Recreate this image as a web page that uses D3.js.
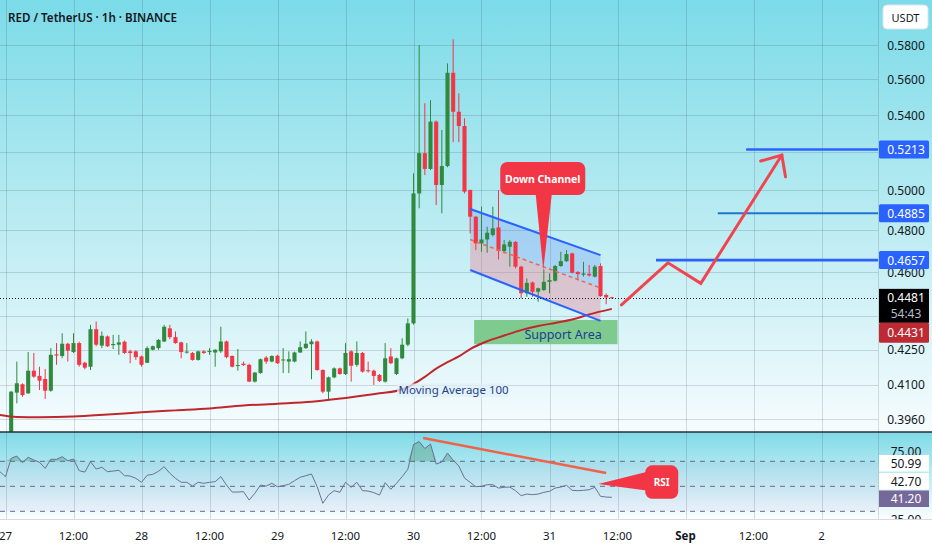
<!DOCTYPE html>
<html lang="en">
<head>
<meta charset="UTF-8" />
<title>RED / TetherUS 1h</title>
<script src="https://d3js.org/d3.v7.min.js"></script>
<style>
  body { margin: 0; background: #fff; }
  svg { display: block; font-family: "Noto Sans", "DejaVu Sans", sans-serif; }
</style>
</head>
<body>
<svg id="chart" width="932" height="550"></svg>
<script>
// hourly candles, index 0 = 27 Aug 00:00
const opens = [0.3880,0.3880,0.4068,0.4103,0.4065,0.4160,0.4138,0.4125,0.4076,0.4230,
  0.4223,0.4276,0.4240,0.4279,0.4194,0.4177,0.4340,0.4268,0.4308,0.4270,
  0.4272,0.4285,0.4243,0.4243,0.4221,0.4194,0.4250,0.4257,0.4286,0.4344,
  0.4305,0.4282,0.4238,0.4236,0.4206,0.4243,0.4240,0.4238,0.4243,0.4286,
  0.4223,0.4180,0.4190,0.4185,0.4114,0.4150,0.4216,0.4199,0.4224,0.4204,
  0.4199,0.4199,0.4238,0.4257,0.4274,0.4286,0.4163,0.4072,0.4132,0.4170,
  0.4146,0.4243,0.4185,0.4236,0.4162,0.4160,0.4142,0.4114,0.4221,0.4146,
  0.4213,0.4272,0.4366,0.4985,0.5194,0.5111,0.5364,0.5028,0.5126,0.5638,
  0.5418,0.5340,0.5002,0.4868,0.4737,0.4756,0.4778,0.4815,0.4700,0.4721,
  0.4744,0.4626,0.4502,0.4552,0.4509,0.4517,0.4555,0.4560,0.4629,0.4652,
  0.4689,0.4601,0.4588,0.4592,0.4579,0.4629,0.4494,0.4484];
const highs = [0.3900,0.4075,0.4199,0.4107,0.4240,0.4236,0.4177,0.4167,0.4257,0.4279,
  0.4322,0.4280,0.4322,0.4285,0.4198,0.4359,0.4374,0.4330,0.4312,0.4315,
  0.4315,0.4290,0.4250,0.4248,0.4225,0.4265,0.4268,0.4296,0.4359,0.4359,
  0.4330,0.4285,0.4279,0.4240,0.4246,0.4248,0.4257,0.4252,0.4351,0.4290,
  0.4225,0.4253,0.4199,0.4190,0.4155,0.4212,0.4223,0.4226,0.4228,0.4257,
  0.4243,0.4242,0.4286,0.4330,0.4296,0.4290,0.4166,0.4135,0.4174,0.4173,
  0.4279,0.4248,0.4286,0.4240,0.4199,0.4165,0.4146,0.4279,0.4257,0.4216,
  0.4300,0.4388,0.5088,0.5800,0.5465,0.5483,0.5370,0.5318,0.5692,0.5834,
  0.5521,0.5382,0.5005,0.4870,0.4918,0.4818,0.4918,0.5002,0.4753,0.4753,
  0.4748,0.4630,0.4571,0.4556,0.4528,0.4613,0.4594,0.4634,0.4697,0.4705,
  0.4692,0.4605,0.4649,0.4634,0.4634,0.4641,0.4502,0.4486];
const lows = [0.3870,0.3860,0.4024,0.4051,0.4063,0.4130,0.4079,0.4042,0.4072,0.4185,
  0.4213,0.4199,0.4236,0.4177,0.4166,0.4163,0.4265,0.4257,0.4262,0.4253,
  0.4228,0.4232,0.4192,0.4206,0.4177,0.4192,0.4247,0.4250,0.4283,0.4296,
  0.4276,0.4213,0.4233,0.4203,0.4203,0.4232,0.4228,0.4177,0.4236,0.4213,
  0.4174,0.4160,0.4181,0.4112,0.4110,0.4147,0.4189,0.4196,0.4189,0.4150,
  0.4150,0.4196,0.4236,0.4254,0.4124,0.4160,0.4065,0.4041,0.4128,0.4143,
  0.4142,0.4114,0.4177,0.4152,0.4152,0.4100,0.4113,0.4110,0.4188,0.4142,
  0.4209,0.4265,0.4360,0.4910,0.5079,0.5105,0.4926,0.4885,0.5120,0.5253,
  0.5253,0.4985,0.4786,0.4705,0.4697,0.4692,0.4770,0.4660,0.4689,0.4626,
  0.4618,0.4479,0.4486,0.4486,0.4463,0.4512,0.4502,0.4556,0.4625,0.4648,
  0.4594,0.4563,0.4579,0.4579,0.4575,0.4486,0.4452,0.4478];
const closes = [0.3895,0.4072,0.4107,0.4058,0.4160,0.4135,0.4118,0.4076,0.4228,0.4225,
  0.4276,0.4246,0.4279,0.4185,0.4173,0.4340,0.4272,0.4311,0.4265,0.4275,
  0.4282,0.4236,0.4236,0.4218,0.4185,0.4257,0.4265,0.4293,0.4351,0.4305,
  0.4279,0.4240,0.4242,0.4206,0.4243,0.4236,0.4245,0.4250,0.4286,0.4218,
  0.4177,0.4184,0.4184,0.4114,0.4152,0.4209,0.4199,0.4223,0.4192,0.4208,
  0.4209,0.4238,0.4261,0.4276,0.4286,0.4163,0.4072,0.4132,0.4170,0.4146,
  0.4236,0.4181,0.4236,0.4156,0.4158,0.4138,0.4117,0.4213,0.4192,0.4213,
  0.4272,0.4366,0.4985,0.5194,0.5111,0.5364,0.5028,0.5126,0.5638,0.5418,
  0.5340,0.4994,0.4868,0.4737,0.4756,0.4789,0.4810,0.4701,0.4732,0.4745,
  0.4626,0.4502,0.4550,0.4509,0.4525,0.4555,0.4563,0.4629,0.4652,0.4686,
  0.4597,0.4591,0.4594,0.4585,0.4626,0.4489,0.4483,0.4481];

// RSI(14), first value belongs to hour -1
const rsiStartHour = -1;
const rsiValues = [61.7,57.7,72.4,74.2,68.9,73.2,71.0,69.2,64.4,71.6,
  71.6,73.7,70.5,71.8,62.5,61.4,69.7,63.8,65.2,61.7,
  62.2,62.8,58.5,58.2,56.4,53.2,58.8,59.6,62.0,65.7,
  60.4,56.4,53.2,53.2,50.2,53.2,52.4,53.2,53.7,57.7,
  51.0,45.4,45.4,45.7,39.0,44.4,51.0,50.2,52.4,49.7,
  50.5,51.6,54.5,57.2,58.5,59.8,49.7,36.4,43.0,46.5,
  45.2,53.2,49.2,53.2,46.5,46.2,44.9,43.0,52.9,47.6,
  52.4,57.7,63.6,83.4,85.8,80.2,83.8,67.8,69.4,76.6,
  70.9,66.2,56.6,53.2,49.7,50.0,51.3,51.3,48.6,49.2,
  49.4,46.5,42.5,43.8,43.3,43.8,45.2,46.0,48.6,49.4,
  50.8,46.8,46.5,46.8,47.3,49.2,42.0,41.4,41.2];

// moving average 100, read at these hours
const maHours  = [-1, 2, 6, 12, 18, 24, 30, 36, 42, 48, 54, 60, 66, 70, 72, 74, 76, 78, 80, 82, 85, 88, 91, 94, 97, 100, 103, 107];
const maValues = [0.3976,0.3968,0.3967,0.3970,0.3978,0.3987,0.3995,0.4003,0.4015,0.4022,0.4030,0.4046,0.4065,0.4081,
  0.4104,0.4134,0.4169,0.4197,0.4221,0.4253,0.4287,0.4312,0.4336,0.4354,0.4368,0.4383,0.4406,0.4431];

const priceTicks = [0.58, 0.56, 0.54, 0.52, 0.50, 0.48, 0.46, 0.44, 0.425, 0.41, 0.396];
const timeTickHours = [0, 12, 24, 36, 48, 60, 72, 84, 96, 108, 120, 132, 144];
const timeTickLabels = ["27", "12:00", "28", "12:00", "29", "12:00", "30", "12:00", "31", "12:00", "Sep", "12:00", "2"];
const rsiLevels = [70, 50, 30];

// drawings
const targetPrices = [0.5213, 0.4885, 0.4657];
const targetStartHours = [130.7, 125.7, 114.8];
const channelHours = [82, 105];
const channelUpper = [0.4906, 0.4681];
const channelLower = [0.4610, 0.4377];
const supportHours = [82.7, 108];
const supportPrices = [0.4381, 0.4274];
const pathHours = [108.7, 116.9, 122.7, 137.0];
const pathPrices = [0.4449, 0.4644, 0.4548, 0.5184];
const rsiTrendHours = [73.7, 106];
const rsiTrendValues = [88.6, 60.6];
const lastPrice = 0.4481, maLast = 0.4431;
const rsiLabels = ["50.99", "42.70", "41.20"];

const W = 932, H = 550, plotRight = 878, mainBottom = 432, rsiBottom = 519;
const up = "#2f8a3d", down = "#f23645";

const t0 = Date.UTC(2025, 7, 27, 0, 0);
const at = (h) => new Date(t0 + h * 3600e3);

const x = d3.scaleUtc().domain([at(0), at(120)]).range([5.5, 685.5]);
const y = d3.scaleLog().domain([0.58, 0.396]).range([45, 419]);
const yR = d3.scaleLinear().domain([30, 70]).range([511.3, 461.3]);

const svg = d3.select("#chart");
const defs = svg.append("defs");

function vGrad(id, y1, y2, stops) {
    const g = defs.append("linearGradient").attr("id", id)
        .attr("gradientUnits", "userSpaceOnUse")
        .attr("x1", 0).attr("x2", 0).attr("y1", y1).attr("y2", y2);
    stops.forEach(([o, c]) => g.append("stop").attr("offset", o).attr("stop-color", c));
}
vGrad("bgMain", 0, mainBottom, [[0, "#7bdbe8"], [0.5, "#b9ebf2"], [1, "#f6fcfe"]]);
vGrad("bgRsi", mainBottom, rsiBottom, [[0, "#7fdae7"], [1, "#fbfdff"]]);

defs.append("clipPath").attr("id", "clipMain").append("rect")
    .attr("width", plotRight).attr("height", mainBottom);
defs.append("clipPath").attr("id", "clipRsi").append("rect")
    .attr("y", mainBottom).attr("width", plotRight).attr("height", rsiBottom - mainBottom);
defs.append("clipPath").attr("id", "clipRsiAxis").append("rect")
    .attr("x", plotRight).attr("y", mainBottom).attr("width", W - plotRight).attr("height", rsiBottom - mainBottom);

// backgrounds
svg.append("rect").attr("width", W).attr("height", H).attr("fill", "#fff");
svg.append("rect").attr("width", W).attr("height", mainBottom).attr("fill", "url(#bgMain)");
svg.append("rect").attr("y", mainBottom).attr("width", W).attr("height", rsiBottom - mainBottom).attr("fill", "url(#bgRsi)");

// grid
const grid = svg.append("g").attr("stroke", "rgba(40,60,70,0.17)").attr("shape-rendering", "crispEdges");
grid.selectAll(null).data(priceTicks).join("line")
    .attr("x1", 0).attr("x2", plotRight)
    .attr("y1", (d) => Math.round(y(d)) + 0.5).attr("y2", (d) => Math.round(y(d)) + 0.5);
grid.selectAll(null).data(timeTickHours).join("line")
    .attr("x1", (d) => Math.round(x(at(d))) + 0.5).attr("x2", (d) => Math.round(x(at(d))) + 0.5)
    .attr("y1", 0).attr("y2", rsiBottom);

// ---------- main pane ----------
const main = svg.append("g").attr("clip-path", "url(#clipMain)");

const cx0 = x(at(channelHours[0])), cx1 = x(at(channelHours[1]));
const u0 = y(channelUpper[0]), u1 = y(channelUpper[1]);
const l0 = y(channelLower[0]), l1 = y(channelLower[1]);
const m0 = (u0 + l0) / 2, m1 = (u1 + l1) / 2;
main.append("path")
    .attr("d", `M${cx0},${u0}L${cx1},${u1}L${cx1},${m1}L${cx0},${m0}Z`)
    .attr("fill", "rgba(70,115,245,0.22)");
main.append("path")
    .attr("d", `M${cx0},${m0}L${cx1},${m1}L${cx1},${l1}L${cx0},${l0}Z`)
    .attr("fill", "rgba(240,110,130,0.33)");

// support area
main.append("rect")
    .attr("x", x(at(supportHours[0])))
    .attr("y", y(supportPrices[0]))
    .attr("width", x(at(supportHours[1])) - x(at(supportHours[0])))
    .attr("height", y(supportPrices[1]) - y(supportPrices[0]))
    .attr("fill", "#7fca8f");

// candles
const candles = opens.map((o, i) => ({ t: i, o, h: highs[i], l: lows[i], c: closes[i] }));
const bw = (x(at(1)) - x(at(0))) * 0.72;
main.append("g").selectAll("line").data(candles).join("line")
    .attr("x1", (d) => x(at(d.t))).attr("x2", (d) => x(at(d.t)))
    .attr("y1", (d) => y(d.h)).attr("y2", (d) => y(d.l))
    .attr("stroke", (d) => (d.c >= d.o ? up : down)).attr("stroke-width", 1);
main.append("g").selectAll("rect").data(candles).join("rect")
    .attr("x", (d) => x(at(d.t)) - bw / 2)
    .attr("y", (d) => y(Math.max(d.o, d.c)))
    .attr("width", bw)
    .attr("height", (d) => Math.max(1, y(Math.min(d.o, d.c)) - y(Math.max(d.o, d.c))))
    .attr("fill", (d) => (d.c >= d.o ? up : down));

// MA 100
main.append("path")
    .datum(maHours.map((h, i) => [h, maValues[i]]))
    .attr("fill", "none").attr("stroke", "#c0272d").attr("stroke-width", 2)
    .attr("d", d3.line().x((d) => x(at(d[0]))).y((d) => y(d[1])).curve(d3.curveMonotoneX));

// channel lines
main.append("line").attr("x1", cx0).attr("y1", m0).attr("x2", cx1).attr("y2", m1)
    .attr("stroke", "#ea6b55").attr("stroke-width", 1.5).attr("stroke-dasharray", "4,3");
[[u0, u1], [l0, l1]].forEach(([a, b]) => {
    main.append("line").attr("x1", cx0).attr("y1", a).attr("x2", cx1).attr("y2", b)
        .attr("stroke", "#2962ff").attr("stroke-width", 2);
});

// target lines
main.selectAll(null).data(targetPrices).join("line")
    .attr("x1", (d, i) => x(at(targetStartHours[i]))).attr("x2", plotRight)
    .attr("y1", (d) => y(d)).attr("y2", (d) => y(d))
    .attr("stroke", (d, i) => (i === 1 ? "#1f74d6" : "#2962ff"))
    .attr("stroke-width", (d, i) => (i === 1 ? 1.8 : 2.6));

// last price dotted line
main.append("line").attr("x1", 0).attr("x2", plotRight)
    .attr("y1", Math.round(y(lastPrice)) + 0.5).attr("y2", Math.round(y(lastPrice)) + 0.5)
    .attr("stroke", "#131722").attr("stroke-width", 1).attr("stroke-dasharray", "1,2");

// projection arrow
const pts = pathHours.map((h, i) => [x(at(h)), y(pathPrices[i])]);
main.append("path").datum(pts)
    .attr("d", d3.line())
    .attr("fill", "none").attr("stroke", "#f0454f").attr("stroke-width", 3)
    .attr("stroke-linejoin", "miter").attr("stroke-linecap", "round");
{
    const [tx, ty] = pts[pts.length - 1];
    const [px, py] = pts[pts.length - 2];
    const ang = Math.atan2(py - ty, px - tx);
    const wing = (a) => [tx + 22 * Math.cos(ang + a), ty + 22 * Math.sin(ang + a)];
    const w1 = wing(0.73), w2 = wing(-0.73);
    main.append("path")
        .attr("d", `M${w1[0]},${w1[1]}L${tx},${ty}L${w2[0]},${w2[1]}`)
        .attr("fill", "none").attr("stroke", "#f0454f").attr("stroke-width", 3)
        .attr("stroke-linecap", "round").attr("stroke-linejoin", "miter");
}

// Down Channel callout
{
    const tx = x(at(94.9)), ty = y(0.4610);
    const g = main.append("g").attr("fill", "#f23645");
    g.append("path").attr("d", `M${tx - 8},${ty - 80}L${tx},${ty}L${tx + 9},${ty - 80}Z`);
    g.append("rect").attr("x", tx - 43).attr("y", ty - 108).attr("width", 85).attr("height", 33).attr("rx", 7);
    main.append("text").attr("x", tx - 0.5).attr("y", ty - 87.5).attr("text-anchor", "middle")
        .attr("fill", "#fff").attr("font-size", 10.5).attr("font-weight", 700).text("Down Channel");
}

// texts
main.append("text")
    .attr("x", x(at(98.4))).attr("y", y(0.4318) + 4.5)
    .attr("text-anchor", "middle").attr("fill", "#1b3f92").attr("font-size", 12.5)
    .text("Support Area");
{
    const tx = x(at(69.1)), ty = y(0.4079);
    main.append("rect").attr("x", tx).attr("y", ty - 6.5).attr("width", 111).attr("height", 13.5)
        .attr("fill", "rgba(225,240,248,0.75)");
    main.append("text").attr("x", tx + 1.5).attr("y", ty + 4.5)
        .attr("fill", "#25428c").attr("font-size", 11.5).text("Moving Average 100");
}

// title
svg.append("text").attr("x", 8).attr("y", 21.5).attr("fill", "#131722")
    .attr("font-size", 11.6).attr("font-weight", 600).text("RED / TetherUS · 1h · BINANCE");

// ---------- RSI pane ----------
const rsiG = svg.append("g").attr("clip-path", "url(#clipRsi)");
rsiG.append("rect").attr("x", 0).attr("width", plotRight)
    .attr("y", yR(70)).attr("height", yR(30) - yR(70))
    .attr("fill", "rgba(126,87,194,0.06)");
rsiG.selectAll(null).data(rsiLevels).join("line")
    .attr("x1", 0).attr("x2", plotRight)
    .attr("y1", (d) => yR(d)).attr("y2", (d) => yR(d))
    .attr("stroke", "#666a86").attr("stroke-width", 1).attr("stroke-dasharray", "5,5");

const rsiPts = rsiValues.map((v, i) => [rsiStartHour + i, v]);
rsiG.append("path").datum(rsiPts)
    .attr("fill", "rgba(70,140,100,0.35)")
    .attr("d", d3.area().x((d) => x(at(d[0]))).y0(yR(70)).y1((d) => yR(Math.max(70, d[1]))));
rsiG.append("path").datum(rsiPts)
    .attr("fill", "none").attr("stroke", "#6b7192").attr("stroke-width", 1)
    .attr("d", d3.line().x((d) => x(at(d[0]))).y((d) => yR(d[1])));

rsiG.append("line")
    .attr("x1", x(at(rsiTrendHours[0]))).attr("y1", yR(rsiTrendValues[0]))
    .attr("x2", x(at(rsiTrendHours[1]))).attr("y2", yR(rsiTrendValues[1]))
    .attr("stroke", "#f06249").attr("stroke-width", 2.5);

{
    const tx = x(at(104.6)), ty = yR(51.8);
    const g = rsiG.append("g").attr("fill", "#f23645");
    g.append("path").attr("d", `M${tx},${ty}L${tx + 52},${ty - 13}L${tx + 52},${ty + 7}Z`);
    g.append("rect").attr("x", tx + 47).attr("y", ty - 18.7).attr("width", 33).attr("height", 33.4).attr("rx", 7);
    rsiG.append("text").attr("x", tx + 63.5).attr("y", ty + 1.5).attr("text-anchor", "middle")
        .attr("fill", "#fff").attr("font-size", 10).attr("font-weight", 700).text("RSI");
}

// pane separators
svg.append("line").attr("x1", 0).attr("x2", W).attr("y1", mainBottom).attr("y2", mainBottom)
    .attr("stroke", "#2a2e39").attr("stroke-width", 1.6);
svg.append("line").attr("x1", 0).attr("x2", W).attr("y1", rsiBottom + 0.5).attr("y2", rsiBottom + 0.5)
    .attr("stroke", "#d6dade").attr("stroke-width", 1);
svg.append("line").attr("x1", plotRight + 0.5).attr("x2", plotRight + 0.5).attr("y1", 0).attr("y2", rsiBottom)
    .attr("stroke", "rgba(0,0,0,0.12)").attr("stroke-width", 1);

// ---------- price axis ----------
const axis = svg.append("g").attr("font-size", 12).attr("text-anchor", "middle");
const ax = 906;
axis.append("rect").attr("x", 883).attr("y", 5).attr("width", 45).attr("height", 24).attr("rx", 4)
    .attr("fill", "#fff").attr("stroke", "#e0e3eb");
axis.append("text").attr("x", 905.5).attr("y", 21.5).attr("font-size", 11).attr("fill", "#131722").text("USDT");

// tick labels that sit fully under a value box are not shown
const ly = y(lastPrice);
const boxBands = targetPrices.map((p) => [y(p) - 9, y(p) + 9]).concat([[ly - 9, ly + 45]]);
const shownTicks = priceTicks.filter((p) => !boxBands.some(([a, b]) => y(p) - 4 > a && y(p) + 4 < b));
axis.selectAll(null).data(shownTicks).join("text")
    .attr("x", ax).attr("y", (d) => y(d) + 4.5).attr("fill", "#131722")
    .text((d) => d.toFixed(4));

function priceBox(yc, h, fill, label, color) {
    axis.append("rect").attr("x", 879).attr("y", yc - h / 2).attr("width", 50).attr("height", h)
        .attr("fill", fill).attr("rx", 1.5);
    axis.append("text").attr("x", ax).attr("y", yc + 4.5).attr("fill", color).text(label);
}
targetPrices.forEach((p) => priceBox(y(p), 18, "#2962ff", p.toFixed(4), "#fff"));

axis.append("rect").attr("x", 879).attr("y", ly - 9).attr("width", 50).attr("height", 34).attr("fill", "#000");
axis.append("text").attr("x", ax).attr("y", ly + 4.5).attr("fill", "#fff").text(lastPrice.toFixed(4));
axis.append("text").attr("x", ax).attr("y", ly + 20).attr("fill", "#b8bcc8").text("54:43");
priceBox(ly + 35, 20, "#bd2a33", maLast.toFixed(4), "#fff");

// RSI axis (75 and 25 are cut at the pane edges as in the original)
const rAxis = svg.append("g").attr("clip-path", "url(#clipRsiAxis)").attr("font-size", 12).attr("text-anchor", "middle");
rAxis.append("text").attr("x", ax).attr("y", yR(75) + 1).attr("fill", "#131722").text("75.00");
rAxis.append("text").attr("x", ax).attr("y", yR(25) + 6).attr("fill", "#131722").text("25.00");
const rsiBoxY = [463, 481, 498.5];
rsiLabels.forEach((s, i) => {
    const last = i === 2;
    rAxis.append("rect").attr("x", 879).attr("y", rsiBoxY[i] - 8).attr("width", 50).attr("height", 16.5)
        .attr("fill", last ? "#75699a" : "#fff");
    rAxis.append("text").attr("x", ax).attr("y", rsiBoxY[i] + 4.5)
        .attr("fill", last ? "#fff" : "#131722").text(s);
});

// ---------- time axis ----------
svg.append("g").attr("font-size", 11.5).attr("text-anchor", "middle").attr("fill", "#131722")
    .selectAll("text").data(timeTickHours).join("text")
    .attr("x", (d) => x(at(d))).attr("y", 540)
    .attr("font-weight", (d, i) => (timeTickLabels[i] === "Sep" ? 700 : 400))
    .text((d, i) => timeTickLabels[i]);
</script>
</body>
</html>
